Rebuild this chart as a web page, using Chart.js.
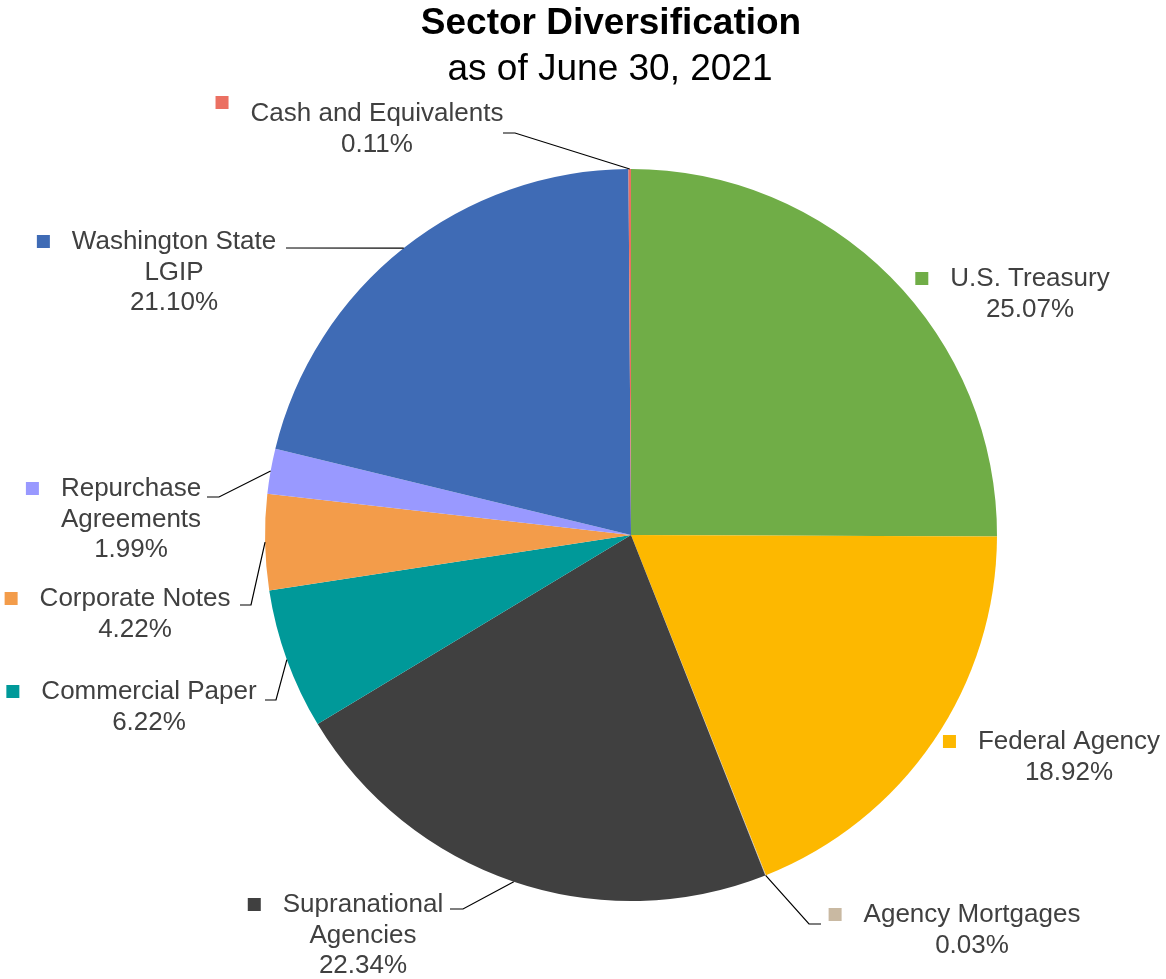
<!DOCTYPE html>
<html>
<head>
<meta charset="utf-8">
<title>Sector Diversification</title>
<script src="https://cdn.jsdelivr.net/npm/chart.js@4.4.1/dist/chart.umd.min.js"></script>
<style>
  html, body { margin: 0; padding: 0; background: #fff; }
  #wrap { width: 1166px; height: 979px; }
</style>
</head>
<body>
<div id="wrap"><canvas id="sectorChart" width="1166" height="979"></canvas></div>
<script>
// sectors, clockwise from 12 o'clock
const sectors = ['U.S. Treasury', 'Federal Agency', 'Agency Mortgages', 'Supranational Agencies',
    'Commercial Paper', 'Corporate Notes', 'Repurchase Agreements', 'Washington State LGIP',
    'Cash and Equivalents'];
const weights = [25.07, 18.92, 0.03, 22.34, 6.22, 4.22, 1.99, 21.10, 0.11];
const sliceColors = ['#70AD47', '#FDB800', '#C9B9A2', '#404040', '#009999',
    '#F39C4A', '#9999FF', '#3F6BB5', '#EB7062'];

// label text lines (the percentage line is appended from weights)
const labelLines = [
    ['U.S. Treasury'],
    ['Federal Agency'],
    ['Agency Mortgages'],
    ['Supranational', 'Agencies'],
    ['Commercial Paper'],
    ['Corporate Notes'],
    ['Repurchase', 'Agreements'],
    ['Washington State', 'LGIP'],
    ['Cash and Equivalents']
];

// where each label sits: x = text centre, y = first line middle,
// keyDy = extra vertical shift of the colour key,
// leader = elbow + end of the connector (null when label sits next to the slice)
const labelSpots = [
    { x: 1030, y: 279, keyDy: 0, leader: null },
    { x: 1069, y: 742, keyDy: 0, leader: null },
    { x: 972, y: 915, keyDy: 0, leader: [[809, 924], [821, 924]] },
    { x: 363, y: 905, keyDy: 0, leader: [[463, 909], [450, 909]] },
    { x: 149, y: 692, keyDy: 0, leader: [[276, 700], [265, 700]] },
    { x: 135, y: 599, keyDy: 0, leader: [[251, 605], [240, 605]] },
    { x: 131, y: 489, keyDy: 0, leader: [[219, 497], [207, 497]] },
    { x: 174, y: 242, keyDy: 0, leader: [[286, 248], [286, 248]] },
    { x: 377, y: 114, keyDy: -11, leader: [[515, 133], [503, 133]] }
];

const labelFont = '26px "Liberation Sans", Arial, sans-serif';
const lineGap = 30.5;

const sliceLabels = {
    id: 'sliceLabels',
    afterDraw(chart) {
        const ctx = chart.ctx;
        const arcs = chart.getDatasetMeta(0).data;
        ctx.save();

        // heading
        ctx.fillStyle = '#000';
        ctx.textAlign = 'center';
        ctx.textBaseline = 'middle';
        ctx.font = 'bold 37px "Liberation Sans", Arial, sans-serif';
        ctx.fillText('Sector Diversification', 611, 24);
        ctx.font = '37px "Liberation Sans", Arial, sans-serif';
        ctx.fillText('as of June 30, 2021', 610, 70);

        ctx.font = labelFont;
        arcs.forEach((arc, i) => {
            const spot = labelSpots[i];
            const lines = labelLines[i].concat([weights[i].toFixed(2) + '%']);

            // connector from the slice rim
            if (spot.leader) {
                const mid = (arc.startAngle + arc.endAngle) / 2;
                const sx = arc.x + Math.cos(mid) * arc.outerRadius;
                const sy = arc.y + Math.sin(mid) * arc.outerRadius;
                ctx.strokeStyle = '#000';
                ctx.lineWidth = 1.2;
                ctx.beginPath();
                ctx.moveTo(sx, sy);
                spot.leader.forEach(p => ctx.lineTo(p[0], p[1]));
                ctx.stroke();
            }

            // text
            ctx.fillStyle = '#404040';
            ctx.textAlign = 'center';
            lines.forEach((t, k) => ctx.fillText(t, spot.x, spot.y + k * lineGap));

            // colour key in front of the first line
            const w = ctx.measureText(lines[0]).width;
            const left = spot.x - w / 2;
            ctx.fillStyle = sliceColors[i];
            ctx.fillRect(left - 35, spot.y - 7 + spot.keyDy, 13, 13);
        });
        ctx.restore();
    }
};

new Chart(document.getElementById('sectorChart'), {
    type: 'pie',
    data: {
        labels: sectors,
        datasets: [{
            data: weights,
            backgroundColor: sliceColors,
            borderWidth: 0
        }]
    },
    options: {
        responsive: false,
        animation: false,
        layout: { padding: { top: 169, bottom: 78, left: 265, right: 169 } },
        plugins: {
            legend: { display: false },
            tooltip: { enabled: false }
        }
    },
    plugins: [sliceLabels]
});
</script>
</body>
</html>
